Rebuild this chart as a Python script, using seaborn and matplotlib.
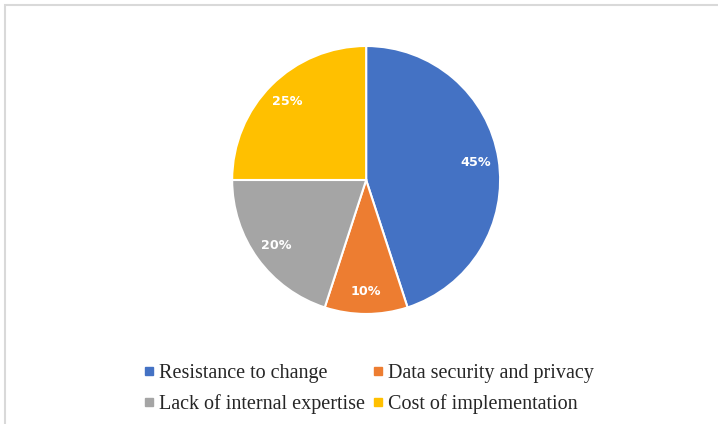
import matplotlib
matplotlib.use("Agg")
import matplotlib.pyplot as plt
from matplotlib.lines import Line2D
from matplotlib.patches import Rectangle
import seaborn as sns

categories = ["Resistance to change", "Data security and privacy",
              "Lack of internal expertise", "Cost of implementation"]
values = [45, 10, 20, 25]
colors = ["#4472C4", "#ED7D31", "#A5A5A5", "#FFC000"]

sns.set_theme(style="white")
plt.rcParams['font.family'] = ['DejaVu Sans']

fig = plt.figure(figsize=(7.18, 4.24), dpi=100)
fig.patch.set_facecolor("white")

# frame (only top-left visible in reference)
fig.patches.append(Rectangle((5/718, -0.1), 1.2, (424-5)/424 + 0.1, transform=fig.transFigure,
                             fill=False, edgecolor="#D9D9D9", linewidth=1.5))

ax = fig.add_axes([0.3233, 0.2595, 0.3733, 0.632])
wedges, texts, autotexts = ax.pie(
    values, colors=colors, startangle=90, counterclock=False,
    autopct=lambda p: f"{p:.0f}%", pctdistance=0.83,
    wedgeprops=dict(edgecolor="white", linewidth=1.5),
    textprops=dict(color="white", fontweight="bold", fontsize=9.2))
ax.set_aspect("equal")
ax.set_xlim(-1, 1)
ax.set_ylim(-1, 1)

# row-wise legend order (matplotlib fills columns first)
order = [0, 2, 1, 3]
handles = [Line2D([0], [0], marker='s', linestyle='none', markersize=5.5,
                  markerfacecolor=colors[i], markeredgecolor=colors[i]) for i in order]
labels = [categories[i] for i in order]
leg = fig.legend(handles, labels, loc="center", ncol=2,
                 bbox_to_anchor=(0.5115, 0.082), frameon=False,
                 prop=dict(family="Liberation Serif", size=14.5),
                 handletextpad=0.1, columnspacing=0.22, handlelength=0.8,
                 labelspacing=0.56)

fig.savefig("out.png", dpi=100, facecolor="white")
